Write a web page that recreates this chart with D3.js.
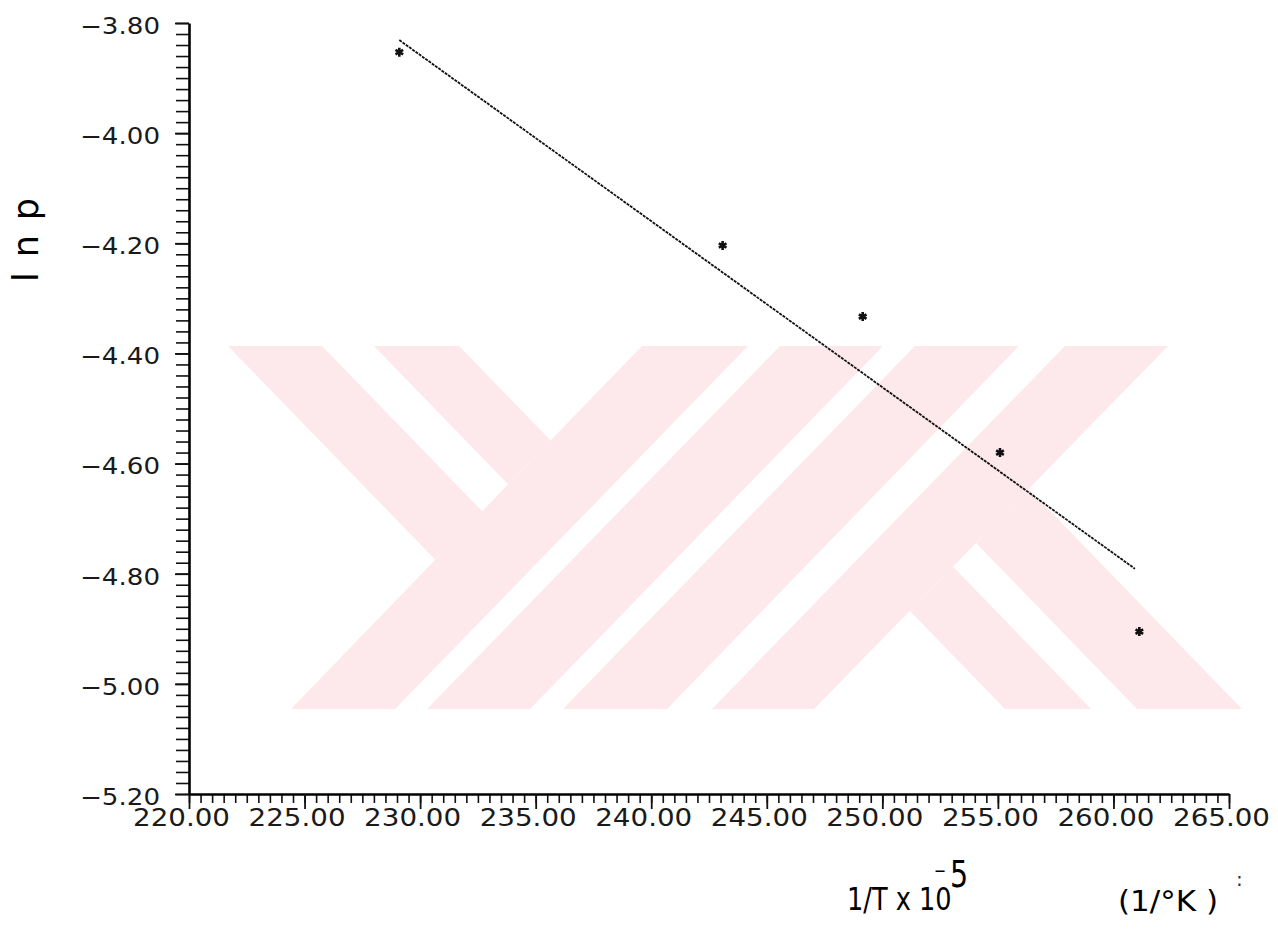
<!DOCTYPE html>
<html>
<head>
<meta charset="utf-8">
<script src="https://cdn.jsdelivr.net/npm/d3@7"></script>
<style>
  body { margin: 0; background: #fff; }
  svg { display: block; }
</style>
</head>
<body>
<div class="plot-view"></div>
<script>
// values: 1/T x 10^-5 and ln p
invT = [229.10, 243.09, 249.15, 255.09, 261.12];
lnP  = [-3.853, -4.204, -4.333, -4.580, -4.905];
// ends of the drawn fit line
fitX = [229.10, 260.93];
fitY = [-3.831, -4.791];
xTicks = [220, 225, 230, 235, 240, 245, 250, 255, 260, 265];
yTicks = [-3.80, -4.00, -4.20, -4.40, -4.60, -4.80, -5.00, -5.20];

function plot_view() {
  width = 1278;
  height = 941;
  margin = ({top: 23, right: 49, bottom: 147, left: 189});
  font = "DejaVu Sans, sans-serif";

  svg = d3.select('.plot-view').append('svg')
      .attr("width", width)
      .attr("height", height)
      .style("font-family", font);

  draw_watermark(svg);

  x = d3.scaleLinear()
      .domain([220, 265])
      .range([margin.left, width - margin.right]);

  y = d3.scaleLinear()
      .domain([-5.2, -3.8])
      .range([height - margin.bottom, margin.top]);

  xMinor = d3.range(0, 91).map(i => 220 + i * 0.5);
  yMinor = d3.range(0, 71).map(i => -3.8 - i * 0.02);

  //x axis minor ticks
  svg.append("g")
      .attr("transform", `translate(0, ${y(-5.2)})`)
      .call(d3.axisBottom(x).tickValues(xMinor).tickSize(9).tickSizeOuter(0).tickFormat(""))
      .call(g => g.select(".domain").remove())
      .selectAll("line").attr("stroke", "#111").attr("stroke-width", 1.6);

  //x axis
  svg.append("g")
      .attr("transform", `translate(0, ${y(-5.2)})`)
      .call(d3.axisBottom(x).tickValues(xTicks).tickSize(15).tickSizeOuter(0).tickPadding(0)
              .tickFormat(d => d.toFixed(2)))
      .attr("font-family", font)
      .call(g => g.select(".domain").attr("stroke", "#000").attr("stroke-width", 2.6))
      .call(g => g.selectAll("line").attr("stroke", "#111").attr("stroke-width", 1.8))
      .call(g => g.selectAll("text")
          .attr("x", -8)
          .attr("fill", "#1a1a1a")
          .style("font-size", "24px")
          .attr("textLength", 97)
          .attr("lengthAdjust", "spacingAndGlyphs"));

  //y axis minor ticks
  svg.append("g")
      .attr("transform", `translate(${x(220)}, 0)`)
      .call(d3.axisLeft(y).tickValues(yMinor).tickSize(13).tickSizeOuter(0).tickFormat(""))
      .call(g => g.select(".domain").remove())
      .selectAll("line").attr("stroke", "#111").attr("stroke-width", 1.6);

  //y axis
  svg.append("g")
      .attr("transform", `translate(${x(220)}, 0)`)
      .call(d3.axisLeft(y).tickValues(yTicks).tickSize(14).tickSizeOuter(0).tickPadding(15)
              .tickFormat(d => "\u2212" + Math.abs(d).toFixed(2)))
      .attr("font-family", font)
      .call(g => g.select(".domain").attr("stroke", "#000").attr("stroke-width", 2.6))
      .call(g => g.selectAll("line").attr("stroke", "#111").attr("stroke-width", 1.8))
      .call(g => g.selectAll("text")
          .attr("dy", "0.45em")
          .attr("fill", "#1a1a1a")
          .style("font-size", "23px")
          .attr("textLength", 80)
          .attr("lengthAdjust", "spacingAndGlyphs"));

  // fit line
  line = d3.line().x(d => x(d[0])).y(d => y(d[1]));
  svg.append("path")
      .datum(d3.zip(fitX, fitY))
      .attr("d", line)
      .attr("fill", "none")
      .attr("stroke", "#111")
      .attr("stroke-width", 1.8)
      .attr("stroke-dasharray", "3,1");

  // measured points
  svg.selectAll("path.pt")
      .data(d3.zip(invT, lnP))
      .join("path")
      .attr("class", "pt")
      .attr("transform", d => `translate(${x(d[0])}, ${y(d[1])})`)
      .attr("d", d3.symbol().type(d3.symbolAsterisk).size(55))
      .attr("fill", "none")
      .attr("stroke", "#111")
      .attr("stroke-width", 2.6);

  // axis titles
  svg.append("text")
      .attr("transform", "translate(38, 240) rotate(-90)")
      .attr("text-anchor", "middle")
      .style("font-size", "35px")
      .attr("textLength", 84)
      .attr("lengthAdjust", "spacing")
      .text("lnp");

  svg.append("text")
      .attr("transform", "translate(847, 910) scale(0.8, 1)")
      .style("font-size", "32px")
      .text("1/T x 10");
  svg.append("text")
      .attr("transform", "translate(934, 877) scale(0.8, 1)")
      .style("font-size", "18px")
      .text("\u2212");
  svg.append("text")
      .attr("transform", "translate(950, 887) scale(0.75, 1)")
      .style("font-size", "38px")
      .text("5");

  svg.append("text")
      .attr("x", 1118).attr("y", 911)
      .style("font-size", "29px")
      .attr("textLength", 100)
      .attr("lengthAdjust", "spacingAndGlyphs")
      .text("(1/\u00b0K )");
  svg.append("text")
      .attr("x", 1236).attr("y", 886)
      .style("font-size", "20px")
      .attr("fill", "#333")
      .text(":");
}

// faint pink logo behind the plot
function draw_watermark(svg) {
  h = 363;
  wm = svg.append("g").attr("transform", "translate(228, 346)");
  defs = svg.append("defs");
  defs.append("clipPath").attr("id", "leftOfBand")
      .append("polygon").attr("points", `-10,0 414,0 63,${h} -10,${h}`);
  defs.append("clipPath").attr("id", "rightOfBand")
      .append("polygon").attr("points", `940,0 1100,0 1100,${h} 586,${h}`);

  band = (t0, t1, b0, b1) => `${t0},0 ${t1},0 ${b1},${h} ${b0},${h}`;
  fill = "#fde8ec";

  [[414, 520, 63, 167], [552, 655, 199, 302], [687, 791, 335, 439], [837, 940, 484, 586]]
    .forEach(b => wm.append("polygon").attr("points", band(...b)).attr("fill", fill));

  [[0, 94, 352, 446], [146, 231, 498, 583]]
    .forEach(b => wm.append("polygon").attr("points", band(...b)).attr("fill", fill)
                    .attr("clip-path", "url(#leftOfBand)"));

  [[425, 511, 777, 863], [557, 662, 909, 1014]]
    .forEach(b => wm.append("polygon").attr("points", band(...b)).attr("fill", fill)
                    .attr("clip-path", "url(#rightOfBand)"));
}

plot_view();
</script>
</body>
</html>
